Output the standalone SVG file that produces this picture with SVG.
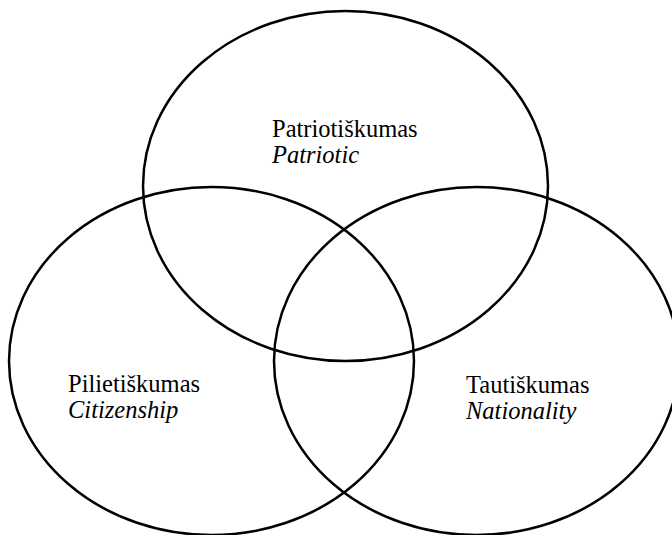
<svg xmlns="http://www.w3.org/2000/svg" width="672" height="535" viewBox="0 0 672 535">
<style>
.c{fill:none;stroke:#000;stroke-width:2.5}
.t{font-family:'Liberation Serif','Times New Roman',Tinos,'DejaVu Serif',serif;font-size:24.5px;fill:#000}
.i{font-style:italic}
</style>
<rect width="672" height="535" fill="#fff"/>
<g id="patriotic">
<ellipse class="c" cx="345.5" cy="186" rx="202.5" ry="175"/>
<text class="t" x="272" y="137">Patriotiškumas</text>
<text class="t i" x="272" y="163">Patriotic</text>
</g>
<g id="citizenship">
<ellipse class="c" cx="211.5" cy="361" rx="202.5" ry="174"/>
<text class="t" x="68" y="392">Pilietiškumas</text>
<text class="t i" x="68" y="418">Citizenship</text>
</g>
<g id="nationality">
<ellipse class="c" cx="476.5" cy="361" rx="202.5" ry="174"/>
<text class="t" x="466" y="393">Tautiškumas</text>
<text class="t i" x="466" y="419">Nationality</text>
</g>
<g id="connectors"/>
</svg>
